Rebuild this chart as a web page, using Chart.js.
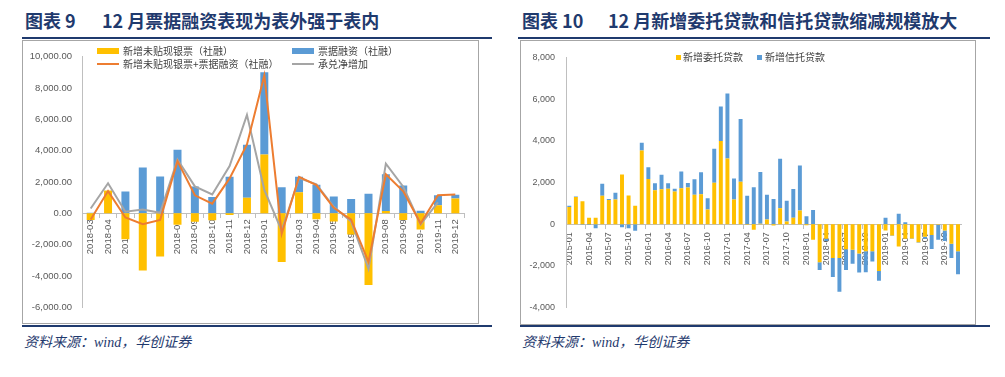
<!DOCTYPE html>
<html><head><meta charset="utf-8">
<script src="https://cdn.jsdelivr.net/npm/chart.js@4"></script>
<style>
body{margin:0;background:#fff;width:1005px;height:377px;position:relative;overflow:hidden;font-family:"Noto Sans CJK SC",sans-serif}
.abs{position:absolute}
.title{font-weight:700;color:#1F3A6E;font-size:18px;white-space:nowrap;line-height:18px}
.rule{background:#1F3A6E;height:2px}
.panel{border:1px solid #A6A6A6;box-sizing:border-box;background:#fff}
.src{font-style:italic;color:#1F3A6E;font-size:14px;font-family:"Liberation Serif","Noto Sans CJK SC";white-space:nowrap;line-height:16px}
.leg{font-size:10px;color:#404040;white-space:nowrap;line-height:12px;z-index:5}
canvas{position:absolute}
</style></head>
<body>
<!-- left titles -->
<div class="abs title" style="left:25px;top:11px">图表 9</div>
<div class="abs title" style="left:102px;top:11px">12 月票据融资表现为表外强于表内</div>
<div class="abs rule" style="left:22px;top:37px;width:470px"></div>
<div class="abs panel" style="left:22px;top:40px;width:457px;height:284px"></div>
<canvas id="c1" width="455" height="282" style="left:23px;top:41px"></canvas>
<div class="abs rule" style="left:22px;top:325px;width:470px"></div>
<div class="abs src" style="left:24px;top:335px">资料来源：wind，华创证券</div>

<!-- left legend -->
<div class="abs" style="left:97px;top:48px;width:22px;height:6px;background:#FFC000;z-index:5"></div>
<div class="abs leg" style="left:123px;top:45px">新增未贴现银票（社融）</div>
<div class="abs" style="left:292px;top:48px;width:22px;height:6px;background:#5B9BD5;z-index:5"></div>
<div class="abs leg" style="left:318px;top:45px">票据融资（社融）</div>
<div class="abs" style="left:97px;top:63px;width:22px;height:2px;background:#ED7D31;z-index:5"></div>
<div class="abs leg" style="left:123px;top:58px">新增未贴现银票+票据融资（社融）</div>
<div class="abs" style="left:292px;top:63px;width:22px;height:2px;background:#A5A5A5;z-index:5"></div>
<div class="abs leg" style="left:318px;top:58px">承兑净增加</div>

<!-- right titles -->
<div class="abs title" style="left:522px;top:11px">图表 10</div>
<div class="abs title" style="left:608px;top:11px">12 月新增委托贷款和信托贷款缩减规模放大</div>
<div class="abs rule" style="left:518px;top:37px;width:472px"></div>
<div class="abs panel" style="left:520px;top:40px;width:456px;height:285px"></div>
<canvas id="c2" width="454" height="283" style="left:521px;top:41px"></canvas>
<div class="abs rule" style="left:520px;top:325px;width:470px"></div>
<div class="abs src" style="left:522px;top:335px">资料来源：wind，华创证券</div>

<!-- right legend -->
<div class="abs" style="left:676px;top:55px;width:5px;height:5px;background:#FFC000;z-index:5"></div>
<div class="abs leg" style="left:683px;top:51px">新增委托贷款</div>
<div class="abs" style="left:757px;top:55px;width:5px;height:5px;background:#5B9BD5;z-index:5"></div>
<div class="abs leg" style="left:765px;top:51px">新增信托贷款</div>

<script>
// ---- Chart 9 data ----
const months1 = ['2018-03','2018-04','2018-05','2018-06','2018-07','2018-08','2018-09','2018-10','2018-11','2018-12',
  '2019-01','2019-02','2019-03','2019-04','2019-05','2019-06','2019-07','2019-08','2019-09','2019-10','2019-11','2019-12'];
const unDiscounted = [-420,1450,-1650,-3650,-2750,-730,-540,-450,-100,1000,
  3750,-3100,1350,-380,-520,-1350,-4580,150,-420,-1040,520,940];
const billFinancing = [30,0,1400,2920,2350,4060,1710,1040,2330,3375,
  5250,1670,980,1830,1080,920,1250,2350,1770,170,630,250];
const sumLine = [-400,1420,-270,-700,-420,3330,1150,620,2230,4400,
  8800,-1300,2330,1800,350,-400,-3100,2500,1400,-650,1150,1200];
const acceptanceNet = [310,1920,100,250,30,3440,1720,1200,3020,6290,
  1500,-1100,2250,1850,420,-520,-3550,3170,1700,-700,700,null];
const yTicks1 = {min:-6000, max:10000, step:2000};

// ---- Chart 10 data ----
const months2 = ['2015-01','2015-02','2015-03','2015-04','2015-05','2015-06','2015-07','2015-08','2015-09','2015-10','2015-11','2015-12',
  '2016-01','2016-02','2016-03','2016-04','2016-05','2016-06','2016-07','2016-08','2016-09','2016-10','2016-11','2016-12',
  '2017-01','2017-02','2017-03','2017-04','2017-05','2017-06','2017-07','2017-08','2017-09','2017-10','2017-11','2017-12',
  '2018-01','2018-02','2018-03','2018-04','2018-05','2018-06','2018-07','2018-08','2018-09','2018-10','2018-11','2018-12',
  '2019-01','2019-02','2019-03','2019-04','2019-05','2019-06','2019-07','2019-08','2019-09','2019-10','2019-11','2019-12'];
const entrusted = [820,1310,1100,310,310,1360,1160,1180,2380,1380,880,3530,
  2170,1630,1680,1700,1570,1730,1760,1410,1440,710,1990,3990,
  3150,1190,2040,-30,-270,20,220,-60,770,130,310,660,
  -50,-750,-1820,-700,-1620,-1620,-1200,-1220,-1410,-1300,-1300,-2240,
  -300,-540,-1070,-700,-680,-860,-600,-520,-30,-300,-940,-1300];
const trust = [60,20,-30,-40,-200,580,50,330,-150,-200,-310,380,
  560,330,690,270,130,800,220,750,1050,530,1630,1660,
  3120,1000,3010,1360,1770,2480,1190,1210,2370,1000,1380,2160,
  380,680,-380,-100,-910,-1620,-1000,-680,-910,-1000,-490,-470,
  310,-30,500,90,-30,-30,-100,-670,-720,-500,-680,-1100];
const yTicks2 = {min:-4000, max:8000, step:2000};

const C = {yellow:'#FFC000', blue:'#5B9BD5', orange:'#ED7D31', gray:'#A5A5A5', tick:'#595959', axis:'#BFBFBF'};

new Chart(document.getElementById('c1'), {
  type:'bar',
  data:{labels:months1, datasets:[
    {type:'line', label:'新增未贴现银票+票据融资（社融）', data:sumLine, borderColor:C.orange, borderWidth:2, pointRadius:0, tension:0, stack:'l1', order:0},
    {type:'line', label:'承兑净增加', data:acceptanceNet, borderColor:C.gray, borderWidth:2, pointRadius:0, tension:0, stack:'l2', order:1},
    {label:'新增未贴现银票（社融）', data:unDiscounted, backgroundColor:C.yellow, stack:'b', order:2, barPercentage:0.46, categoryPercentage:1},
    {label:'票据融资（社融）', data:billFinancing, backgroundColor:C.blue, stack:'b', order:3, barPercentage:0.46, categoryPercentage:1}
  ]},
  options:{
    responsive:false, animation:false, devicePixelRatio:1,
    layout:{padding:{left:0, right:14, top:12, bottom:14}},
    plugins:{legend:{display:false}, tooltip:{enabled:false}},
    scales:{
      x:{stacked:true, position:{y:0}, z:1,
        grid:{display:true, drawOnChartArea:false, drawTicks:true, tickLength:4, offset:true, color:C.axis},
        border:{display:true, color:C.axis, width:1},
        ticks:{autoSkip:false, minRotation:90, maxRotation:90, padding:2, color:C.tick, font:{family:'Liberation Sans', size:9.5}}},
      y:{stacked:true, min:yTicks1.min, max:yTicks1.max,
        afterFit:s=>{s.width=59;},
        grid:{display:false, drawTicks:false},
        border:{display:true, color:C.axis, width:1},
        ticks:{stepSize:yTicks1.step, padding:10, color:C.tick, font:{family:'Liberation Sans', size:9.5},
          callback:v=>Number(v).toLocaleString('en-US',{minimumFractionDigits:2, maximumFractionDigits:2})}}
    }
  }
});

new Chart(document.getElementById('c2'), {
  type:'bar',
  data:{labels:months2, datasets:[
    {label:'新增委托贷款', data:entrusted, backgroundColor:C.yellow, barPercentage:0.6, categoryPercentage:1},
    {label:'新增信托贷款', data:trust, backgroundColor:C.blue, barPercentage:0.6, categoryPercentage:1}
  ]},
  options:{
    responsive:false, animation:false, devicePixelRatio:1,
    layout:{padding:{left:0, right:13.7, top:13, bottom:15}},
    plugins:{legend:{display:false}, tooltip:{enabled:false}},
    scales:{
      x:{stacked:true, position:{y:0}, z:1,
        grid:{display:true, drawOnChartArea:false, drawTicks:true, tickLength:4, offset:true,
          color:ctx=>(ctx.index%3===0 ? C.axis : 'rgba(0,0,0,0)')},
        border:{display:true, color:C.axis, width:1},
        ticks:{autoSkip:false, minRotation:90, maxRotation:90, padding:4, color:C.tick, font:{family:'Liberation Sans', size:9},
          callback:(v,i)=>(i%3===0 ? months2[i] : '')}},
      y:{stacked:true, min:yTicks2.min, max:yTicks2.max,
        afterFit:s=>{s.width=45;},
        grid:{display:false, drawTicks:false},
        border:{display:true, color:C.axis, width:1},
        ticks:{stepSize:yTicks2.step, padding:11, color:C.tick, font:{family:'Liberation Sans', size:9},
          callback:v=>Number(v).toLocaleString('en-US')}}
    }
  }
});
</script>
</body></html>
